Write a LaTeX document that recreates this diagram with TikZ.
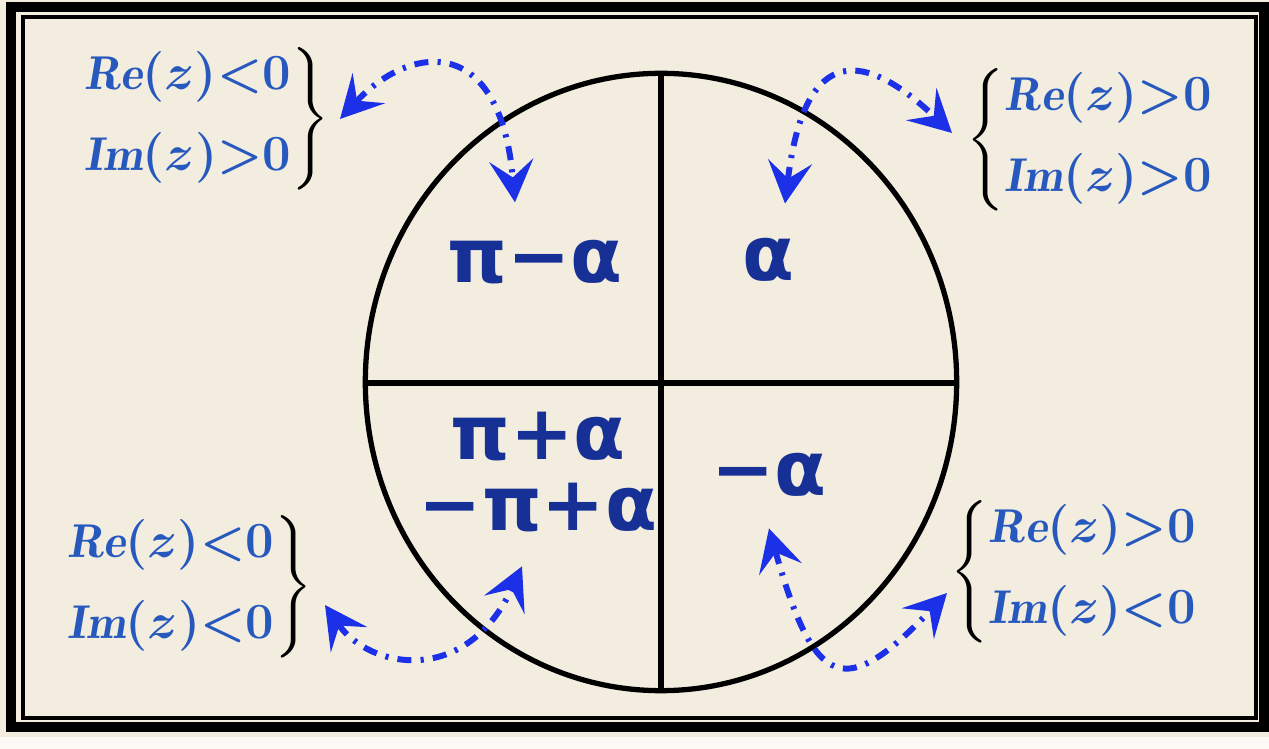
\documentclass[tikz,border=0pt]{standalone}
\usepackage{amsmath,amssymb}
\usepackage{fontspec}
\usepackage{xcolor}
\usepackage{tikz}
\usetikzlibrary{arrows.meta, positioning, calc}
\newfontfamily\quadfont{DejaVu Sans Bold}
\definecolor{paper}{RGB}{242,237,223}
\definecolor{inkblue}{RGB}{22,48,150}
\definecolor{penblue}{RGB}{38,88,190}
\definecolor{arrblue}{RGB}{28,48,232}
\newcommand{\condL}[2]{$\left.\begin{array}{@{}l@{}}\color{penblue}#1\\[7pt]\color{penblue}#2\end{array}\right\}$}
\newcommand{\condR}[2]{$\left\{\begin{array}{@{}l@{}}\color{penblue}#1\\[7pt]\color{penblue}#2\end{array}\right.$}

\begin{document}
\begin{tikzpicture}[
  x=0.01cm, y=-0.01cm,
  quad/.style={text=inkblue, font=\quadfont\fontsize{21.5}{20}\selectfont, align=center, inner sep=2pt},
  cond/.style={font=\fontsize{13.5}{16}\selectfont\boldmath, inner sep=0pt},
  arr/.style={{Stealth[length=4.2mm,width=4.4mm,inset=1.7mm]}-{Stealth[length=4.2mm,width=4.4mm,inset=1.7mm]},
              arrblue, line width=1.7pt, dash pattern=on 4pt off 2.6pt on 0.9pt off 2.6pt},
  axis/.style={line width=1.5pt}
]
\fill[paper] (0,0) rectangle (1269,749);
\fill[white!70!paper] (0,737) rectangle (1269,749);
\useasboundingbox (0,0) rectangle (1269,749);
% frame
\draw[line width=2.6pt] (11,7) rectangle (1264,727);
\draw[line width=0.9pt] (23,17) rectangle (1256,718);
% circle and axes
\draw[axis] (661,382) ellipse [x radius=2.955cm, y radius=3.085cm];
\draw[axis] (661,73) -- (661,691);
\draw[axis] (366,383) -- (957,383);

\node[quad] (q1) at (768,260) {α};
\node[quad] (q2) at (535,262) {π−α};
\node[quad] (q3) at (538,472) {π+α\\−π+α};
\node[quad] (q4) at (769,475) {−α};

\node[cond, anchor=east] (lt) at (330,119) {\condL{\mathit{Re}(z){<}0}{\mathit{Im}(z){>}0}};
\node[cond, anchor=west] (rt) at (966,140) {\condR{\mathit{Re}(z){>}0}{\mathit{Im}(z){>}0}};
\node[cond, anchor=east] (lb) at (313,587) {\condL{\mathit{Re}(z){<}0}{\mathit{Im}(z){<}0}};
\node[cond, anchor=west] (rb) at (950,572) {\condR{\mathit{Re}(z){>}0}{\mathit{Im}(z){<}0}};

\draw[arr] ([xshift=1mm]lt.east) .. controls +(70,-75) and +(-15,-170) .. ([xshift=-2mm,yshift=3mm]q2.north);
\draw[arr] ([xshift=1.7mm,yshift=2.7mm]q1.north) .. controls +(20,-165) and +(-85,-80) .. ([xshift=-1.4mm,yshift=0.7mm]rt.west);
\draw[arr] ([xshift=1.2mm,yshift=-1.8mm]lb.east) .. controls +(45,65) and +(-55,120) .. ([xshift=-1.6mm,yshift=-2.7mm]q3.south);
\draw[arr] ([yshift=-2.4mm]q4.south) .. controls +(46,163) and +(-102,107) .. ([xshift=-0.3mm,yshift=-2.1mm]rb.west);
\end{tikzpicture}
\end{document}
